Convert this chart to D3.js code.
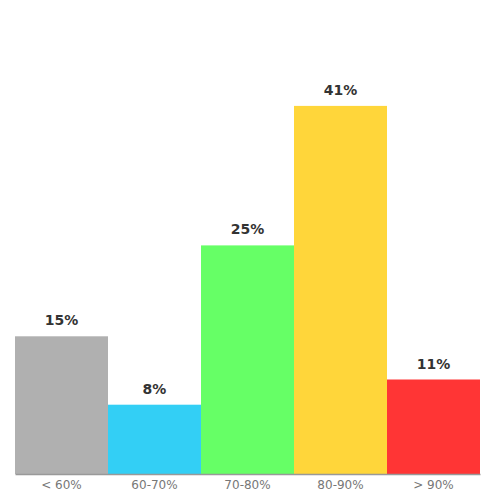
<!DOCTYPE html>
<html>
<head>
<meta charset="utf-8">
<script src="https://cdn.jsdelivr.net/npm/d3@7"></script>
<style>
  body { margin: 0; background: #fff; }
  svg { display: block; font-family: "DejaVu Sans", sans-serif; }
</style>
</head>
<body>
<svg id="chart" width="500" height="500"></svg>
<script>
const categories = ["< 60%", "60-70%", "70-80%", "80-90%", "> 90%"];
const values = [15.3, 7.7, 25.4, 40.9, 10.5];
const valueLabels = ["15%", "8%", "25%", "41%", "11%"];
const colors = ["#b0b0b0", "#33cff5", "#66ff66", "#ffd63a", "#ff3535"];

const svg = d3.select("#chart");
const plotLeft = 15, plotRight = 480, plotBottom = 474, plotTop = 69;

const x = d3.scaleBand().domain(categories).range([plotLeft, plotRight]).padding(0);
const y = d3.scaleLinear().domain([0, 45]).range([plotBottom, plotTop]);

const data = categories.map((c, i) => ({ cat: c, v: values[i], label: valueLabels[i], color: colors[i] }));

svg.append("g")
  .selectAll("rect")
  .data(data)
  .join("rect")
  .attr("x", (d) => x(d.cat))
  .attr("y", (d) => y(d.v))
  .attr("width", x.bandwidth())
  .attr("height", (d) => plotBottom - y(d.v))
  .attr("fill", (d) => d.color);

svg.append("g")
  .selectAll("text")
  .data(data)
  .join("text")
  .attr("x", (d) => x(d.cat) + x.bandwidth() / 2)
  .attr("y", (d) => y(d.v) - 11)
  .attr("text-anchor", "middle")
  .attr("font-size", "14px")
  .attr("font-weight", "bold")
  .attr("fill", "#333")
  .text((d) => d.label);

const xAxis = svg.append("g")
  .attr("transform", `translate(0,${plotBottom})`)
  .call(d3.axisBottom(x).tickSize(0).tickPadding(6));
xAxis.select(".domain").attr("stroke", "#999").attr("stroke-width", 1.5);
xAxis.selectAll("text")
  .attr("font-family", "DejaVu Sans, sans-serif")
  .attr("font-size", "12px")
  .attr("fill", "#777");
</script>
</body>
</html>
